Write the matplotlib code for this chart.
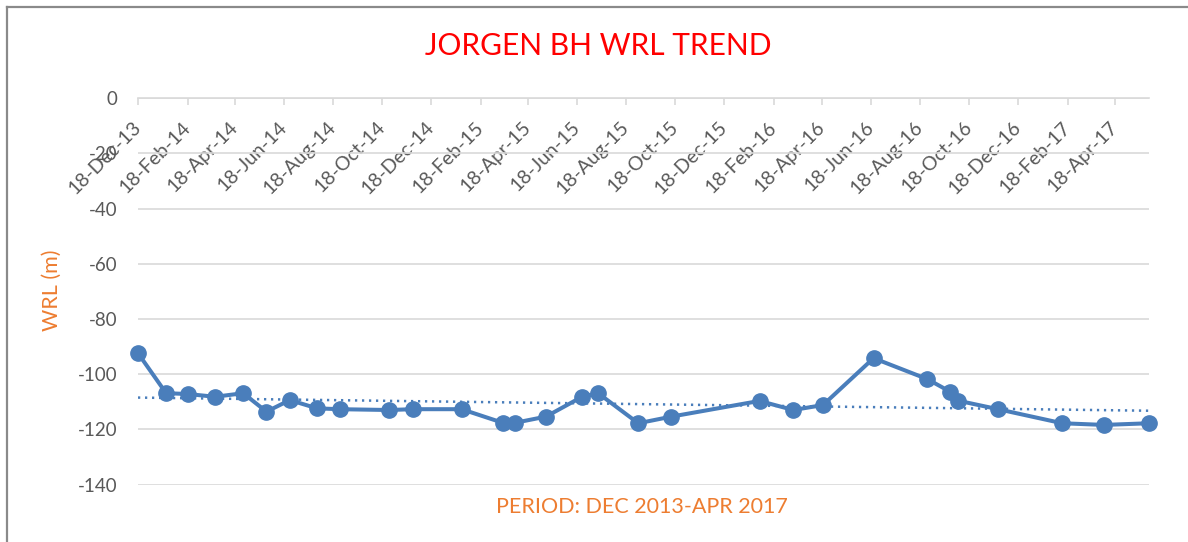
import numpy as np
import pandas as pd
import matplotlib
matplotlib.use("Agg")
import matplotlib.pyplot as plt
import matplotlib.dates as mdates
from matplotlib.lines import Line2D

# Water rest level readings for the Jorgen borehole
dates = [
    "2013-12-18", "2014-01-22", "2014-02-18", "2014-03-24", "2014-04-28",
    "2014-05-27", "2014-06-25", "2014-07-29", "2014-08-26", "2014-10-27",
    "2014-11-25", "2015-01-25", "2015-03-17", "2015-04-02", "2015-05-10",
    "2015-06-24", "2015-07-14", "2015-09-02", "2015-10-13", "2016-01-31",
    "2016-03-13", "2016-04-19", "2016-06-21", "2016-08-27", "2016-09-24",
    "2016-10-04", "2016-11-23", "2017-02-11", "2017-04-04", "2017-05-30",
]
wrl = [
    -92.4, -106.9, -107.2, -108.2, -106.9,
    -113.6, -109.4, -112.4, -112.7, -113.0,
    -112.7, -112.7, -117.6, -117.6, -115.4,
    -108.2, -106.9, -117.8, -115.4, -109.7,
    -113.0, -111.2, -94.2, -101.8, -106.3,
    -109.6, -112.7, -117.8, -118.4, -117.8,
]
y_ticks = [0, -20, -40, -60, -80, -100, -120, -140]

title = "JORGEN BH WRL TREND"
y_label = "WRL (m)"
x_label = "PERIOD: DEC 2013-APR 2017"

FONT = ["Lato", "DejaVu Sans"]
plt.rcParams["font.family"] = FONT
plt.rcParams["axes.unicode_minus"] = False

W, H = 1188, 542
fig = plt.figure(figsize=(W / 100, H / 100), dpi=100, facecolor="white")

left, right, top, bottom = 138, 1149, 98.3, 484.5
ax = fig.add_axes([left / W, 1 - bottom / H, (right - left) / W, (bottom - top) / H])

t = pd.to_datetime(dates)
x = mdates.date2num(t)
y = np.array(wrl)

line_color = "#4a7ebb"
grid_color = "#d9d9d9"
text_color = "#595959"
orange = "#ed7d31"

# Linear trend of the readings
coef = np.polyfit(x, y, 1)
ax.plot(x, np.polyval(coef, x), color=line_color, lw=1.8,
        linestyle=(0, (0.9, 1.9)), zorder=2)

ax.plot(x, y, color=line_color, lw=2.9, marker="o", markersize=11,
        markerfacecolor=line_color, markeredgecolor=line_color, zorder=3,
        clip_on=False)

ax.set_xlim(x[0], x[-1])
ax.set_ylim(-140, 0)
ax.set_yticks(y_ticks)
ax.yaxis.grid(True, color=grid_color, lw=1.2)
ax.set_axisbelow(True)

for s in ["top", "right", "left"]:
    ax.spines[s].set_visible(False)
ax.spines["bottom"].set_position(("data", 0))
ax.spines["bottom"].set_color(grid_color)
ax.spines["bottom"].set_linewidth(1.2)

ax.xaxis.set_major_locator(mdates.MonthLocator(bymonth=[2, 4, 6, 8, 10, 12], bymonthday=18))
ax.xaxis.set_major_formatter(mdates.DateFormatter("%d-%b-%y"))
ax.tick_params(axis="x", direction="out", length=5, width=1.2, color=grid_color,
               labelsize=14, labelcolor=text_color, pad=14)
ax.tick_params(axis="y", length=0, labelsize=13.5, labelcolor=text_color, pad=15)
for lbl in ax.get_xticklabels():
    lbl.set_rotation(45)
    lbl.set_rotation_mode("anchor")
    lbl.set_ha("right")
    lbl.set_va("center")

fig.text(598 / W, 1 - 46 / H, title, color="#ff0000", fontsize=21.5,
         ha="center", va="center")
fig.text(52 / W, 1 - 290 / H, y_label, color=orange, fontsize=15.5,
         rotation=90, ha="center", va="center")
fig.text(642 / W, 1 - 507 / H, x_label, color=orange, fontsize=15.5,
         ha="center", va="center")

# Chart frame, visible on the left and top edges
fig.add_artist(Line2D([7 / W, 7 / W], [0, 1 - 7 / H], transform=fig.transFigure,
                      color="#8a8a8a", lw=1.6))
fig.add_artist(Line2D([7 / W, 1], [1 - 7 / H, 1 - 7 / H], transform=fig.transFigure,
                      color="#8a8a8a", lw=1.6))

fig.savefig("out.png", dpi=100, facecolor="white")
